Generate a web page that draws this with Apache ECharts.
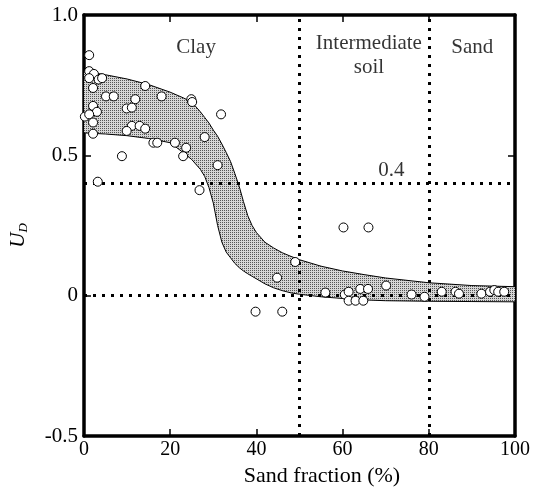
<!DOCTYPE html>
<html>
<head>
<meta charset="utf-8">
<script src="https://cdn.jsdelivr.net/npm/echarts@6/dist/echarts.min.js"></script>
<style>
    html, body {margin:0;padding:0;background:#ffffff;}
    #chart {width:539px;height:498px;}
</style>
</head>
<body>
<div id="chart"></div>
<script>
    // measured points: [sand fraction %, U_D]
    var pointsX = [1.2, 1.2, 2.3, 1.2, 3.4, 4.2, 2.1, 5.1, 6.9, 14.2, 18, 11.9, 24.9, 25.1, 2.1, 9.9, 11.1, 3.0, 31.8, 0.2,
                   1.2, 2.1, 11.1, 12.9, 14.2, 9.9, 2.1, 28, 16.1, 17, 21.1, 23.7, 23, 8.8, 31, 3.2, 26.8,
                   49, 44.8, 39.8, 46, 60.2, 66, 56, 60.5, 61.4, 61.4, 63, 64.8, 64.1, 65.9, 70.1, 76, 79,
                   83, 86.2, 87, 92.2, 94.2, 95.2, 96.1, 97.5];
    var pointsY = [0.857, 0.80, 0.79, 0.775, 0.77, 0.775, 0.74, 0.71, 0.71, 0.747, 0.71, 0.70, 0.70, 0.69, 0.676, 0.667, 0.67, 0.655, 0.646, 0.638,
                   0.646, 0.617, 0.605, 0.605, 0.595, 0.587, 0.577, 0.565, 0.545, 0.545, 0.545, 0.527, 0.497, 0.497, 0.465, 0.406, 0.376,
                   0.12, 0.064, -0.057, -0.057, 0.243, 0.243, 0.011, 0.004, 0.014, -0.018, -0.018, -0.018, 0.024, 0.024, 0.036, 0.004, -0.004,
                   0.014, 0.014, 0.007, 0.007, 0.014, 0.02, 0.014, 0.014];

    // shaded band
    var bandX     = [0, 5, 10, 15, 20, 23, 25, 27, 28, 29, 30, 31, 32, 33, 34, 35, 36, 37, 38, 39, 40, 42, 44, 46, 48, 50, 55, 60, 65, 70, 80, 90, 100];
    var bandUpper = [0.80, 0.787, 0.772, 0.752, 0.725, 0.705, 0.69, 0.655, 0.635, 0.615, 0.59, 0.568, 0.54, 0.51, 0.478, 0.435, 0.39, 0.335, 0.285, 0.25, 0.225, 0.19, 0.17, 0.153, 0.14, 0.128, 0.105, 0.088, 0.075, 0.063, 0.046, 0.036, 0.032];
    var bandLower = [0.58, 0.576, 0.57, 0.56, 0.545, 0.51, 0.485, 0.45, 0.425, 0.385, 0.33, 0.25, 0.19, 0.155, 0.135, 0.115, 0.10, 0.088, 0.078, 0.069, 0.06, 0.042, 0.028, 0.018, 0.01, 0.005, -0.004, -0.01, -0.015, -0.018, -0.02, -0.021, -0.022];

    var dividerX = [50, 80];
    var refY = [0, 0.4];

    var annotText = ['Clay', 'Intermediate\nsoil', 'Sand', '0.4'];
    var annotX = [26, 66.1, 90.1, 71.3];
    var annotY = [0.885, 0.857, 0.885, 0.445];

    var yTickLabels = {'1': '1.0', '0.5': '0.5', '0': '0', '-0.5': '-0.5'};

    var serif = 'Liberation Serif';

    // stipple pattern for the band
    var pat = document.createElement('canvas');
    pat.width = 2; pat.height = 2;
    var pc = pat.getContext('2d');
    pc.fillStyle = '#d6d6d6'; pc.fillRect(0, 0, 2, 2);
    pc.fillStyle = '#555555'; pc.fillRect(0, 0, 1, 1);

    var scatterData = [];
    for (var i = 0; i < pointsX.length; i++) scatterData.push([pointsX[i], pointsY[i]]);
    var annotData = [];
    for (var j = 0; j < annotText.length; j++) annotData.push([annotX[j], annotY[j], annotText[j]]);
    var upperData = [], lowerData = [];
    for (var k = 0; k < bandX.length; k++) {
        upperData.push([bandX[k], bandUpper[k]]);
        lowerData.push([bandX[k], bandLower[k]]);
    }

    var dotted = {color: '#000', width: 3, type: [3, 6], cap: 'butt'};
    var markData = [];
    dividerX.forEach(function (v) { markData.push({xAxis: v}); });
    refY.forEach(function (v) { markData.push({yAxis: v}); });

    var frameLine = {onZero: false, lineStyle: {color: '#000', width: 3.5}};
    var frameTick = {inside: true, length: 7, lineStyle: {color: '#000', width: 1.5}};

    var myChart = echarts.init(document.getElementById('chart'), null, {renderer: 'canvas'});
    var option = {
        animation: false,
        backgroundColor: '#ffffff',
        textStyle: {fontFamily: serif, color: '#000'},
        grid: {left: 80, right: 24, top: 15, bottom: 62},
        xAxis: [{
            type: 'value', min: 0, max: 100, interval: 20,
            name: 'Sand fraction (%)', nameLocation: 'middle', nameGap: 21,
            nameTextStyle: {fontFamily: serif, fontSize: 22, color: '#000', padding: [0, 0, 0, 45]},
            axisLine: frameLine,
            axisTick: frameTick,
            axisLabel: {fontFamily: serif, fontSize: 20, color: '#000', margin: 4},
            splitLine: {show: false}
        }, {
            type: 'value', position: 'top', min: 0, max: 100, interval: 20,
            axisLine: frameLine,
            axisTick: frameTick,
            axisLabel: {show: false},
            splitLine: {show: false}
        }],
        yAxis: [{
            type: 'value', min: -0.5, max: 1, interval: 0.5,
            name: '{u|U}{d|D}', nameLocation: 'middle', nameGap: 54, nameRotate: 90,
            nameTextStyle: {
                padding: [0, 20, 0, 0],
                rich: {
                    u: {fontFamily: serif, fontStyle: 'italic', fontSize: 21, color: '#000'},
                    d: {fontFamily: serif, fontStyle: 'italic', fontSize: 13, color: '#000', padding: [10, 0, 0, 0]}
                }
            },
            axisLine: frameLine,
            axisTick: frameTick,
            axisLabel: {
                fontFamily: serif, fontSize: 21, color: '#000', margin: 6,
                formatter: function (v) { return yTickLabels[String(v)] || String(v); }
            },
            splitLine: {show: false}
        }, {
            type: 'value', position: 'right', min: -0.5, max: 1, interval: 0.5,
            axisLine: frameLine,
            axisTick: frameTick,
            axisLabel: {show: false},
            splitLine: {show: false}
        }],
        series: [{
            type: 'custom',
            z: 1,
            silent: true,
            data: [[0, 0]],
            renderItem: function (params, api) {
                var pts = [];
                for (var a = 0; a < bandX.length; a++) pts.push(api.coord([bandX[a], bandUpper[a]]));
                for (var b = bandX.length - 1; b >= 0; b--) pts.push(api.coord([bandX[b], bandLower[b]]));
                return {
                    type: 'polygon',
                    shape: {points: pts},
                    style: {fill: {image: pat, repeat: 'repeat'}, stroke: null}
                };
            }
        }, {
            type: 'line', data: upperData, z: 2, symbol: 'none', silent: true,
            lineStyle: {color: '#000', width: 1}
        }, {
            type: 'line', data: lowerData, z: 2, symbol: 'none', silent: true,
            lineStyle: {color: '#000', width: 1},
            markLine: {
                silent: true, symbol: 'none', label: {show: false},
                lineStyle: dotted,
                data: markData
            }
        }, {
            type: 'scatter', data: scatterData, z: 5,
            symbol: 'circle', symbolSize: 9,
            itemStyle: {color: '#ffffff', borderColor: '#000', borderWidth: 1, opacity: 1}
        }, {
            type: 'scatter', data: annotData, z: 6, symbolSize: 0, silent: true,
            label: {
                show: true, position: 'inside',
                fontFamily: serif, fontSize: 21, color: '#000', lineHeight: 24,
                formatter: function (p) { return p.data[2]; }
            }
        }]
    };
    myChart.setOption(option);
</script>
</body>
</html>
